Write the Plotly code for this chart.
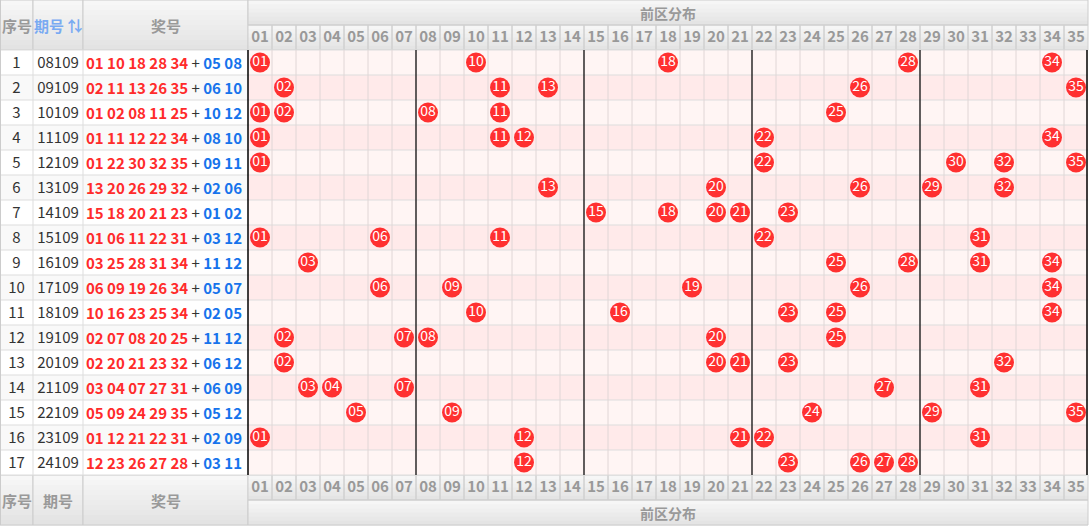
import plotly.graph_objects as go

# ---------------- data ----------------
seq_no = list(range(1, 18))
issues = ["08109", "09109", "10109", "11109", "12109", "13109", "14109", "15109", "16109",
          "17109", "18109", "19109", "20109", "21109", "22109", "23109", "24109"]
front = [
    [1, 10, 18, 28, 34], [2, 11, 13, 26, 35], [1, 2, 8, 11, 25], [1, 11, 12, 22, 34],
    [1, 22, 30, 32, 35], [13, 20, 26, 29, 32], [15, 18, 20, 21, 23], [1, 6, 11, 22, 31],
    [3, 25, 28, 31, 34], [6, 9, 19, 26, 34], [10, 16, 23, 25, 34], [2, 7, 8, 20, 25],
    [2, 20, 21, 23, 32], [3, 4, 7, 27, 31], [5, 9, 24, 29, 35], [1, 12, 21, 22, 31],
    [12, 23, 26, 27, 28],
]
back = [
    [5, 8], [6, 10], [10, 12], [8, 10], [9, 11], [2, 6], [1, 2], [3, 12], [11, 12],
    [5, 7], [2, 5], [11, 12], [6, 12], [6, 9], [5, 12], [2, 9], [3, 11],
]
col_labels = [f"{n:02d}" for n in range(1, 36)]
zone_breaks = [7, 14, 21, 28]

# ---------------- geometry ----------------
W, H = 1089, 526
X_SEQ, X_ISS, X_NUM, X_GRID, X_END = 0, 33, 83, 248, 1088
CW = 24
RH = 25
HEAD_H = 50
n_rows = len(issues)
Y_DATA0 = HEAD_H
Y_DATA1 = HEAD_H + RH * n_rows
Y_BOT1 = Y_DATA1 + 2 * RH

shapes = []


def rect(x0, x1, y0, y1, fill=None, line=None, lw=1):
    shapes.append(dict(type="rect", xref="x", yref="y", x0=x0, x1=x1, y0=y0, y1=y1,
                       fillcolor=fill if fill else "rgba(0,0,0,0)",
                       line=dict(color=line if line else "rgba(0,0,0,0)", width=lw if line else 0),
                       layer="below"))


def vline(x, y0, y1, color, lw=1, layer="below"):
    shapes.append(dict(type="line", xref="x", yref="y", x0=x, x1=x, y0=y0, y1=y1,
                       line=dict(color=color, width=lw), layer=layer))


def hline(y, x0, x1, color, lw=1):
    shapes.append(dict(type="line", xref="x", yref="y", x0=x0, x1=x1, y0=y, y1=y,
                       line=dict(color=color, width=lw), layer="below"))


def grad(x0, x1, y0, y1, top=(248, 248, 248), bot=(226, 226, 226), n=8):
    h = (y1 - y0) / n
    for i in range(n):
        t = (i + 0.5) / n
        c = tuple(int(round(top[k] + (bot[k] - top[k]) * t)) for k in range(3))
        rect(x0, x1, y0 + i * h, y0 + (i + 1) * h + 0.5, fill="rgb(%d,%d,%d)" % c)


# header backgrounds
for (ya, yb) in [(0, HEAD_H), (Y_DATA1, Y_BOT1)]:
    for (xa, xb) in [(X_SEQ, X_ISS), (X_ISS, X_NUM), (X_NUM, X_GRID)]:
        grad(xa, xb, ya, yb, n=10)
        rect(xa, xb, ya, yb, line="#cccccc")
grad(X_GRID, X_END, 0, RH, n=6)
grad(X_GRID, X_END, RH, HEAD_H, n=6)
grad(X_GRID, X_END, Y_DATA1, Y_DATA1 + RH, n=6)
grad(X_GRID, X_END, Y_DATA1 + RH, Y_BOT1, n=6)
rect(X_GRID, X_END, 0, RH, line="#cccccc")
rect(X_GRID, X_END, Y_DATA1 + RH, Y_BOT1, line="#cccccc")
for k in range(len(col_labels)):
    rect(X_GRID + k * CW, X_GRID + (k + 1) * CW, RH, HEAD_H, line="#d0d0d0")
    rect(X_GRID + k * CW, X_GRID + (k + 1) * CW, Y_DATA1, Y_DATA1 + RH, line="#d0d0d0")

# data row backgrounds
for i in range(n_rows):
    y0 = Y_DATA0 + i * RH
    y1 = y0 + RH
    left_fill = "#ffffff" if i % 2 == 0 else "#f9f9f9"
    grid_fill = "#fff5f4" if i % 2 == 0 else "#ffeaea"
    rect(X_SEQ, X_GRID, y0, y1, fill=left_fill)
    rect(X_GRID, X_END, y0, y1, fill=grid_fill)

# grid lines
for i in range(n_rows + 1):
    y = Y_DATA0 + i * RH
    hline(y, X_SEQ, X_END, "#dddddd")
for xv in [X_ISS, X_NUM]:
    vline(xv, Y_DATA0, Y_DATA1, "#dddddd")
for k in range(1, len(col_labels)):
    vline(X_GRID + k * CW, Y_DATA0, Y_DATA1, "#e0d6d6")
vline(0.5, 0, Y_BOT1, "#cccccc")
# zone separators
vline(X_GRID, Y_DATA0, Y_DATA1, "#000000", 1.5, layer="above")
for b in zone_breaks:
    vline(X_GRID + b * CW, Y_DATA0, Y_DATA1, "#000000", 1.2, layer="above")
vline(X_END - 1, Y_DATA0, Y_DATA1, "#000000", 1.5, layer="above")

fig = go.Figure()

FONT = "Noto Sans CJK SC, Open Sans, sans-serif"

# header column numbers (top & bottom)
col_x = [X_GRID + CW * (k + 0.5) for k in range(len(col_labels))]
for yy in [RH + RH / 2 + 0.5, Y_DATA1 + RH / 2 + 0.5]:
    fig.add_trace(go.Scatter(x=col_x, y=[yy] * len(col_x), mode="text", text=[f"<b>{c}</b>" for c in col_labels],
                             textfont=dict(family=FONT, size=15, color="#999999"),
                             hoverinfo="skip", showlegend=False))

annotations = []


def ann(x, y, text, size=14, color="#999999", xanchor="center"):
    annotations.append(dict(x=x, y=y, xref="x", yref="y", text=text, showarrow=False,
                            xanchor=xanchor, yanchor="middle",
                            font=dict(family=FONT, size=size, color=color)))


for yy in [HEAD_H / 2, Y_DATA1 + RH]:
    ann((X_SEQ + X_ISS) / 2, yy, "<b>序号</b>", size=15)
    ann((X_NUM + X_GRID) / 2, yy, "<b>奖号</b>", size=15)
ann((X_ISS + X_NUM) / 2, HEAD_H / 2, "<b>期号 ⇅</b>", size=15, color="#79aaf2")
ann((X_ISS + X_NUM) / 2, Y_DATA1 + RH, "<b>期号</b>", size=15)
ann((X_GRID + X_END) / 2, RH / 2, "<b>前区分布</b>", size=14)
ann((X_GRID + X_END) / 2, Y_DATA1 + RH + RH / 2, "<b>前区分布</b>", size=14)

# data rows text
row_y = [Y_DATA0 + RH * (i + 0.5) for i in range(n_rows)]
fig.add_trace(go.Scatter(x=[(X_SEQ + X_ISS) / 2] * n_rows, y=[y + 1.5 for y in row_y], mode="text",
                         text=[str(s) for s in seq_no],
                         textfont=dict(family=FONT, size=15, color="#333333"),
                         hoverinfo="skip", showlegend=False))
fig.add_trace(go.Scatter(x=[(X_ISS + X_NUM) / 2] * n_rows, y=[y + 1.5 for y in row_y], mode="text",
                         text=issues,
                         textfont=dict(family=FONT, size=15, color="#333333"),
                         hoverinfo="skip", showlegend=False))
for i in range(n_rows):
    fs = " ".join(f"{v:02d}" for v in front[i])
    bs = " ".join(f"{v:02d}" for v in back[i])
    txt = (f"<span style='color:#ff2b2b'><b>{fs}</b></span>"
           f"<span style='color:#333333'> + </span>"
           f"<span style='color:#1673ec'><b>{bs}</b></span>")
    ann(X_NUM + 1, row_y[i], txt, size=15, xanchor="left")

# balls
bx, by, bt = [], [], []
for i in range(n_rows):
    for v in front[i]:
        bx.append(X_GRID + CW * (v - 0.5))
        by.append(row_y[i])
        bt.append(f"{v:02d}")
fig.add_trace(go.Scatter(x=bx, y=by, mode="markers+text", text=bt,
                         textposition="middle center",
                         marker=dict(size=20, color="#ff3030", line=dict(width=0)),
                         textfont=dict(family=FONT, size=14, color="#ffffff"),
                         hoverinfo="skip", showlegend=False))

fig.update_layout(
    width=W, height=H,
    margin=dict(l=0, r=0, t=0, b=0),
    paper_bgcolor="#ffffff", plot_bgcolor="#ffffff",
    xaxis=dict(range=[0, W], visible=False, fixedrange=True),
    yaxis=dict(range=[H, 0], visible=False, fixedrange=True),
    shapes=shapes, annotations=annotations,
    showlegend=False,
)
fig.write_html("out.html", config={"displayModeBar": False, "staticPlot": True},
               post_script="document.body.style.margin='0';document.body.style.padding='0';")
